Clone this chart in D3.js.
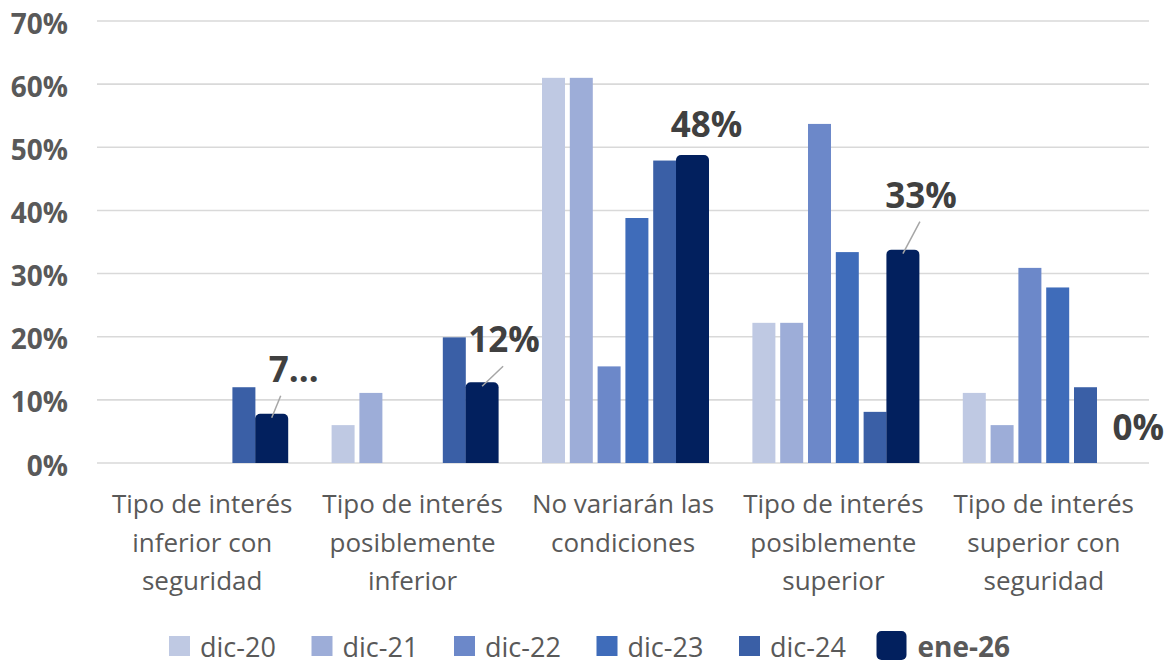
<!DOCTYPE html>
<html>
<head>
<meta charset="utf-8">
<script src="https://cdn.jsdelivr.net/npm/d3@7"></script>
<style>
  html, body { margin: 0; padding: 0; background: #ffffff; }
  svg { display: block; font-family: "Open Sans", "Noto Sans", sans-serif; }
</style>
</head>
<body>
<svg id="chart" width="1168" height="666"></svg>
<script>
// ---- data ----
const categories = [
  "Tipo de interés\ninferior con\nseguridad",
  "Tipo de interés\nposiblemente\ninferior",
  "No variarán las\ncondiciones",
  "Tipo de interés\nposiblemente\nsuperior",
  "Tipo de interés\nsuperior con\nseguridad"
];
const seriesNames = ["dic-20", "dic-21", "dic-22", "dic-23", "dic-24", "ene-26"];
const dic20 = [0, 6.0, 61.0, 22.2, 11.1];
const dic21 = [0, 11.1, 61.0, 22.2, 6.0];
const dic22 = [0, 0, 15.3, 53.7, 30.9];
const dic23 = [0, 0, 38.8, 33.4, 27.8];
const dic24 = [12.0, 19.9, 47.9, 8.1, 12.0];
const ene26 = [7, 12, 48, 33, 0];
const ene26Labels = ["7…", "12%", "48%", "33%", "0%"];
const yTicks = [0, 10, 20, 30, 40, 50, 60, 70];

const seriesValues = [dic20, dic21, dic22, dic23, dic24, ene26];
const colors = ["#BFC9E3", "#9DADD8", "#6C88C9", "#3F6CBA", "#3A5FA6", "#02205E"];

// ---- layout ----
const svg = d3.select("#chart");
const plot = { left: 97, right: 1149, top: 21, bottom: 463 };

const y = d3.scaleLinear().domain([0, 70]).range([plot.bottom, plot.top]);
const x0 = d3.scaleBand().domain(d3.range(categories.length))
  .range([plot.left, plot.right]).paddingInner(0.23).paddingOuter(0.115);
const x1 = d3.scaleBand().domain(d3.range(seriesNames.length))
  .range([0, x0.bandwidth()]).paddingInner(0.173).paddingOuter(0);

// gridlines
svg.append("g").selectAll("line").data(yTicks).join("line")
  .attr("x1", plot.left).attr("x2", plot.right)
  .attr("y1", d => y(d)).attr("y2", d => y(d))
  .attr("stroke", "#d9d9d9").attr("stroke-width", 1.6);

// y axis labels
const yAxis = d3.axisLeft(y).tickValues(yTicks).tickFormat(d => d + "%").tickSize(0).tickPadding(0);
const yG = svg.append("g").attr("transform", `translate(68,0)`).call(yAxis);
yG.select(".domain").remove();
yG.selectAll("text")
  .attr("fill", "#595959").attr("font-size", 28).attr("font-weight", "bold")
  .attr("font-family", "'Open Sans', sans-serif").attr("dy", "0.43em");

// bars
const groups = svg.append("g").selectAll("g").data(categories).join("g")
  .attr("transform", (d, i) => `translate(${x0(i)},0)`);

const stroke = 5;
groups.each(function (c, ci) {
  const g = d3.select(this);
  seriesValues.forEach((vals, si) => {
    const v = vals[ci];
    if (!v) return;
    const bx = x1(si), bw = x1.bandwidth();
    if (si === seriesNames.length - 1) {
      const l = bx - stroke, r = bx + bw + stroke, t = y(v) - stroke, b = y(0), rr = 5;
      const p = d3.path();
      p.moveTo(l, b);
      p.lineTo(l, t + rr);
      p.arcTo(l, t, l + rr, t, rr);
      p.lineTo(r - rr, t);
      p.arcTo(r, t, r, t + rr, rr);
      p.lineTo(r, b);
      p.closePath();
      g.append("path").attr("d", p.toString()).attr("fill", colors[si]);
    } else {
      g.append("rect").attr("x", bx).attr("y", y(v)).attr("width", bw)
        .attr("height", y(0) - y(v)).attr("fill", colors[si]);
    }
  });
});

// data labels for ene-26 (offsets relative to bar centre / top)
const labelOffsets = [
  { dx: 22, dy: -32, leader: true },
  { dx: 22, dy: -30, leader: true },
  { dx: 14, dy: -18, leader: false },
  { dx: 18, dy: -42, leader: true },
  { dx: 25, dy: -23, leader: false }
];
const lastIdx = seriesNames.length - 1;
ene26.forEach((v, ci) => {
  const cx = x0(ci) + x1(lastIdx) + x1.bandwidth() / 2;
  const top = y(v) - (v ? stroke : 0);
  const o = labelOffsets[ci];
  const lx = cx + o.dx, ly = top + o.dy;
  if (o.leader) {
    svg.append("line")
      .attr("x1", lx - (ci === 0 ? 13 : 1)).attr("y1", ly + 14)
      .attr("x2", cx).attr("y2", top + 4)
      .attr("stroke", "#a6a6a6").attr("stroke-width", 1.5);
  }
  svg.append("text").attr("x", lx).attr("y", ly)
    .attr("text-anchor", "middle")
    .attr("font-size", 35).attr("font-weight", "bold").attr("fill", "#404040")
    .text(ene26Labels[ci]);
});

// category labels
const catG = svg.append("g");
categories.forEach((c, ci) => {
  const cx = x0(ci) + x0.bandwidth() / 2;
  const t = catG.append("text").attr("text-anchor", "middle")
    .attr("font-size", 26).attr("fill", "#595959");
  c.split("\n").forEach((line, li) => {
    t.append("tspan").attr("x", cx).attr("y", 513 + li * 38.5).text(line);
  });
});

// legend
const legend = svg.append("g");
const legStart = 169, legStep = 142.5;
seriesNames.forEach((name, si) => {
  const gx = legStart + si * legStep;
  const isLast = si === lastIdx;
  if (isLast) {
    legend.append("rect").attr("x", gx - 5).attr("y", 631).attr("width", 30).attr("height", 29)
      .attr("rx", 5).attr("fill", colors[si]);
    legend.append("text").attr("x", gx + 36).attr("y", 657)
      .attr("font-size", 28).attr("font-weight", "bold").attr("fill", "#595959").text(name);
  } else {
    legend.append("rect").attr("x", gx).attr("y", 636).attr("width", 21).attr("height", 20)
      .attr("fill", colors[si]);
    legend.append("text").attr("x", gx + 31).attr("y", 657)
      .attr("font-size", 27).attr("fill", "#595959").text(name);
  }
});
</script>
</body>
</html>
